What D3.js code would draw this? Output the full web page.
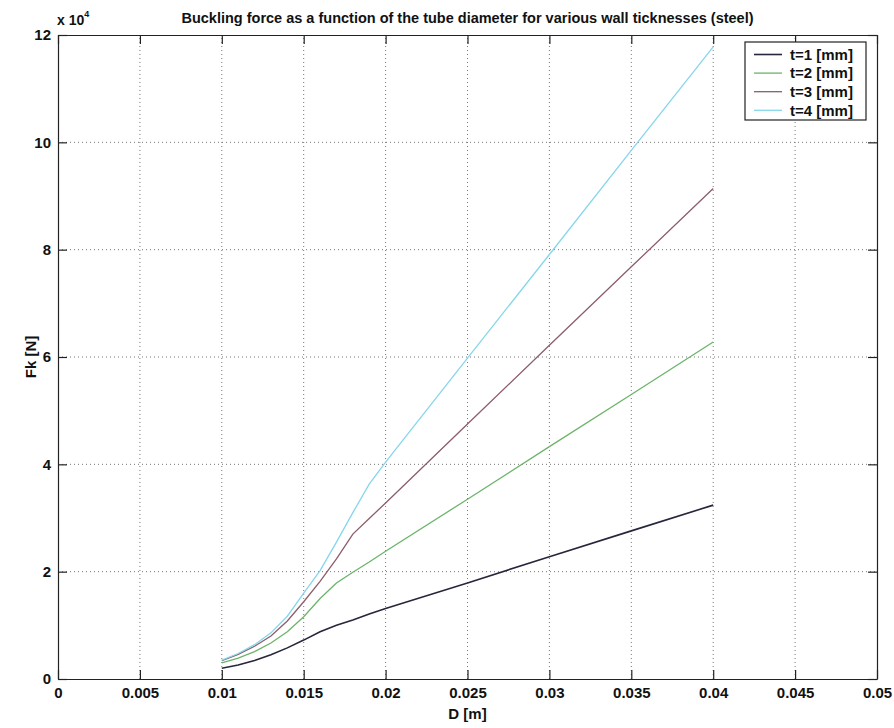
<html>
<head>
<script src="https://cdn.jsdelivr.net/npm/d3@7/dist/d3.min.js"></script>
<style>
  body { margin: 0; background: #fff; }
  text { font-family: "Liberation Sans", Arial, sans-serif; fill: #111; }
</style>
</head>
<body>
<svg id="CANVAS"></svg>
<script>
    var W = 894;
    var H = 728;
    var M = { left: 58, top: 35, right: 17, bottom: 49 };

    // tube diameter D [m]
    var diam = [0.010, 0.011, 0.012, 0.013, 0.014, 0.015, 0.016, 0.017, 0.018, 0.019, 0.020, 0.025, 0.030, 0.035, 0.040];

    // buckling force Fk [N]
    var fT1 = [2000, 2600, 3450, 4500, 5800, 7250, 8800, 10000, 11000, 12100, 13150, 17900, 22800, 27600, 32400];
    var fT2 = [3000, 3900, 5100, 6700, 8800, 11600, 15000, 17900, 19900, 21800, 23800, 33500, 43300, 53000, 62800];
    var fT3 = [3400, 4600, 6100, 8000, 10800, 14400, 18200, 22400, 27000, 29900, 32800, 47500, 62200, 76800, 91400];
    var fT4 = [3500, 4750, 6400, 8600, 11700, 16000, 20200, 25500, 31000, 36300, 40400, 59800, 79100, 98500, 117800];

    var names = ["t=1 [mm]", "t=2 [mm]", "t=3 [mm]", "t=4 [mm]"];
    var colors = ["#26263c", "#6cb46a", "#8c5d6c", "#86d6ec"];
    var xTicks = [0, 0.005, 0.01, 0.015, 0.02, 0.025, 0.03, 0.035, 0.04, 0.045, 0.05];
    var yTicks = [0, 2, 4, 6, 8, 10, 12];

    var series = [fT1, fT2, fT3, fT4];

    var svg = d3.select("#CANVAS").attr("width", W).attr("height", H);
    svg.append("rect").attr("width", W).attr("height", H).attr("fill", "#fff");

    var x = d3.scaleLinear().domain([0, 0.05]).range([M.left, W - M.right]);
    var y = d3.scaleLinear().domain([0, 12]).range([H - M.bottom, M.top]);

    // grid
    var G = svg.append("g");
    G.selectAll("line.gx").data(xTicks.slice(1, -1)).enter().append("line")
        .attr("x1", function (d) { return x(d); }).attr("x2", function (d) { return x(d); })
        .attr("y1", y(0)).attr("y2", y(12))
        .attr("stroke", "#777").attr("stroke-width", 1).attr("stroke-dasharray", "1,3");
    G.selectAll("line.gy").data(yTicks.slice(1, -1)).enter().append("line")
        .attr("y1", function (d) { return y(d); }).attr("y2", function (d) { return y(d); })
        .attr("x1", x(0)).attr("x2", x(0.05))
        .attr("stroke", "#777").attr("stroke-width", 1).attr("stroke-dasharray", "1,3");

    // curves
    var line = d3.line()
        .x(function (d, i) { return x(diam[i]); })
        .y(function (d) { return y(d / 1e4); });
    svg.selectAll("path.curve").data(series).enter().append("path")
        .attr("class", "curve")
        .attr("d", line)
        .attr("fill", "none")
        .attr("stroke", function (d, i) { return colors[i]; })
        .attr("stroke-width", function (d, i) { return i == 0 ? 1.6 : 1.3; });

    // axes (ticks inside, on all four sides)
    var TL = 9;
    var fmtX = function (d) { return d == 0 ? "0" : d3.format("")(+d.toFixed(3)); };
    svg.append("g").attr("transform", "translate(0," + y(0) + ")")
        .call(d3.axisBottom(x).tickValues(xTicks).tickSizeInner(-TL).tickSizeOuter(0).tickPadding(8).tickFormat(fmtX));
    svg.append("g").attr("transform", "translate(0," + y(12) + ")")
        .call(d3.axisTop(x).tickValues(xTicks).tickSizeInner(-TL).tickSizeOuter(0).tickFormat(""));
    svg.append("g").attr("transform", "translate(" + x(0) + ",0)")
        .call(d3.axisLeft(y).tickValues(yTicks).tickSizeInner(-TL).tickSizeOuter(0).tickPadding(7).tickFormat(d3.format("d")));
    svg.append("g").attr("transform", "translate(" + x(0.05) + ",0)")
        .call(d3.axisRight(y).tickValues(yTicks).tickSizeInner(-TL).tickSizeOuter(0).tickFormat(""));

    svg.selectAll(".tick text")
        .style("font-family", "'Liberation Sans', Arial, sans-serif")
        .style("font-size", "15px").style("font-weight", "bold").attr("fill", "#111");
    svg.selectAll(".domain, .tick line").attr("stroke", "#222").attr("stroke-width", 1.2);

    // exponent label
    var ex = svg.append("text").attr("x", 57).attr("y", 25).style("font-size", "14px").style("font-weight", "bold");
    ex.append("tspan").text("x 10");
    ex.append("tspan").attr("dy", -8).style("font-size", "9px").text("4");

    // title and axis labels
    svg.append("text").attr("x", (x(0) + x(0.05)) / 2).attr("y", 23)
        .attr("text-anchor", "middle").style("font-size", "14.5px").style("font-weight", "bold")
        .text("Buckling force as a function of the tube diameter for various wall ticknesses (steel)");
    svg.append("text").attr("x", (x(0) + x(0.05)) / 2).attr("y", 719)
        .attr("text-anchor", "middle").style("font-size", "15px").style("font-weight", "bold")
        .text("D [m]");
    svg.append("text").attr("transform", "translate(36," + (y(6)) + ") rotate(-90)")
        .attr("text-anchor", "middle").style("font-size", "15px").style("font-weight", "bold")
        .text("Fk [N]");

    // legend
    var L = svg.append("g").attr("transform", "translate(745,42)");
    L.append("rect").attr("width", 121).attr("height", 78)
        .attr("fill", "#fff").attr("stroke", "#222").attr("stroke-width", 1.2);
    var LI = L.selectAll("g.item").data(names).enter().append("g")
        .attr("transform", function (d, i) { return "translate(0," + (12.5 + i * 18.6) + ")"; });
    LI.append("line").attr("x1", 9).attr("x2", 37)
        .attr("stroke", function (d, i) { return colors[i]; })
        .attr("stroke-width", function (d, i) { return i == 0 ? 1.6 : 1.3; });
    LI.append("text").attr("x", 45).attr("dy", "0.35em").style("font-size", "15px").style("font-weight", "bold")
        .text(function (d) { return d; });
</script>
</body>
</html>
